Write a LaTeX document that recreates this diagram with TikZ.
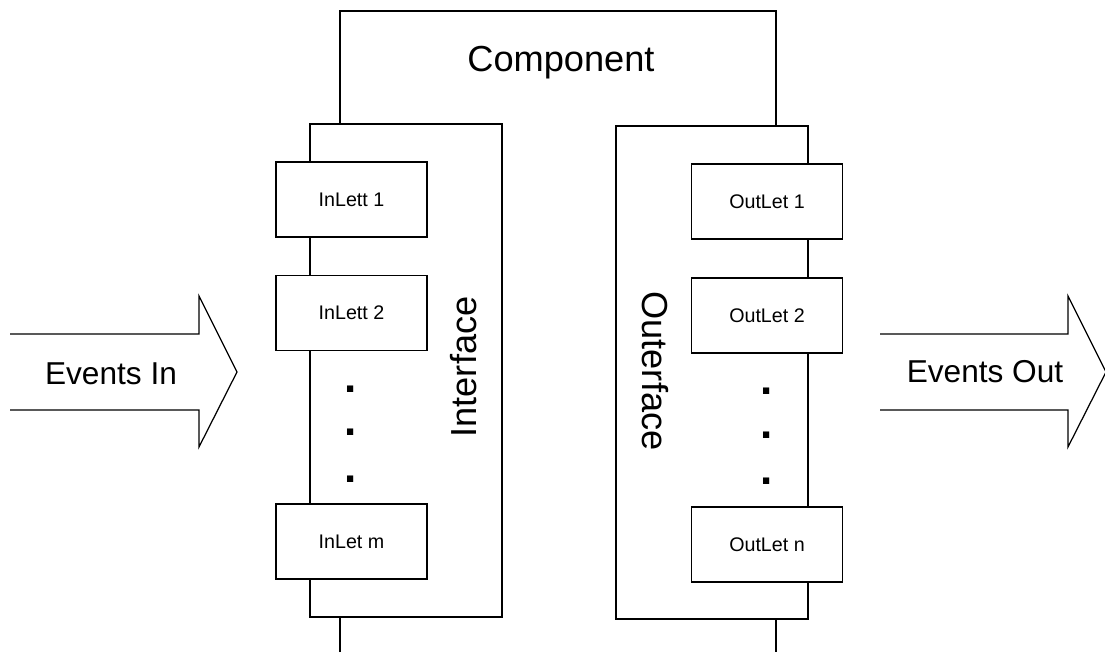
\documentclass[tikz,border=0pt]{standalone}
\usepackage{fontspec}
\setmainfont{Liberation Sans}
\usepackage{tikz}

\tikzset{
  facebox/.style={draw, fill=white, minimum width=1.92cm, minimum height=4.93cm, inner sep=0pt},
  letbox/.style={draw, fill=white, minimum width=1.51cm, minimum height=0.75cm, inner sep=0pt,
    font=\fontsize{5.6}{6.7}\selectfont},
  bigtext/.style={inner sep=0pt, font=\fontsize{10.3}{12}\selectfont},
  evtext/.style={anchor=base, inner sep=0pt, font=\fontsize{9}{11}\selectfont},
  dotmark/.style={anchor=base, inner sep=0pt, font=\bfseries\fontsize{12.5}{14}\selectfont},
}

\begin{document}
\begin{tikzpicture}[
  line width=0.35pt,
]
  \useasboundingbox (0,0) rectangle (11.05,6.52);

  % Component outline (open at the bottom)
  \coordinate (cbl) at (3.40,0);
  \coordinate (cbr) at (7.76,0);
  \draw (cbl) -- (3.40,6.41) -- (7.76,6.41) -- (cbr);
  \node[bigtext, anchor=base] (comp) at (5.61,5.80) {Component};

  % Interface and outerface
  \node[facebox] (iface) at (4.06,2.815) {};
  \node[facebox] (oface) at (7.12,2.795) {};
  \node[bigtext, rotate=90] (ifacelbl) at (4.64,2.85) {Interface};
  \node[bigtext, rotate=-90] (ofacelbl) at (6.55,2.81) {Outerface};

  % Inlets
  \foreach \y/\name/\txt in {4.525/in1/InLett 1, 3.39/in2/InLett 2, 1.105/inm/InLet m} {
    \node[letbox] (\name) at (3.515,\y) {\txt};
  }
  \foreach \y in {2.59,2.16,1.70} {
    \node[dotmark] at (3.51,\y) {.};
  }

  % Outlets
  \foreach \y/\name/\txt in {4.505/out1/OutLet 1, 3.365/out2/OutLet 2, 1.075/outn/OutLet n} {
    \node[letbox] (\name) at (7.67,\y) {\txt};
  }
  \foreach \y in {2.57,2.13,1.68} {
    \node[dotmark] at (7.67,\y) {.};
  }

  % Event arrows
  \draw (0.10,3.18) -- (1.99,3.18) -- (1.99,3.56) -- (2.37,2.80)
    -- (1.99,2.05) -- (1.99,2.42) -- (0.10,2.42);
  \node[evtext] (evin) at (1.11,2.67) {Events In};
  \draw (8.80,3.18) -- (10.68,3.18) -- (10.68,3.56) -- (11.06,2.80)
    -- (10.68,2.05) -- (10.68,2.42) -- (8.80,2.42);
  \node[evtext] (evout) at (9.85,2.69) {Events Out};
\end{tikzpicture}
\end{document}
